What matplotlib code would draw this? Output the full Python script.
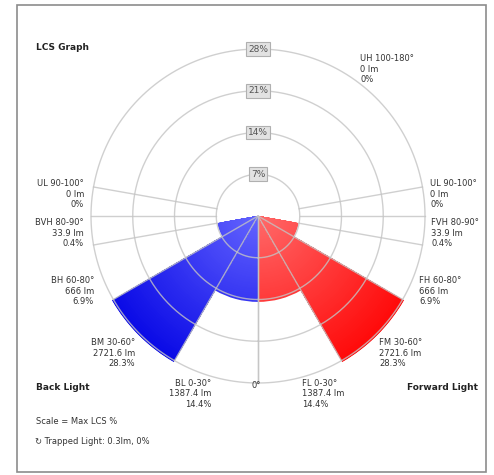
import numpy as np
import matplotlib.pyplot as plt
from matplotlib.colors import LinearSegmentedColormap
from matplotlib.patches import Rectangle

# LCS zones (angles from nadir), lumens and percentages
zone_start = [0, 30, 60, 80, 90, 100]
zone_end = [30, 60, 80, 90, 100, 180]
forward_pct = [14.4, 28.3, 6.9, 0.4, 0, 0]
back_pct = [14.4, 28.3, 6.9, 0.4, 0]
rings = [7, 14, 21, 28]
ring_labels = ['7%', '14%', '21%', '28%']
spokes = [0, 30, 60, 80, 90, 100]

W, H = 494, 475
fig = plt.figure(figsize=(W / 100, H / 100), dpi=100)
fig.patch.set_facecolor('white')

# outer gray frame
fig.add_artist(Rectangle((17 / W, 1 - 472 / H), 469 / W, 467 / H, transform=fig.transFigure,
                         fill=False, edgecolor='#8c8c8c', linewidth=1.2))

cx, cy, R28 = 258, 216, 167
rmax = 28.3
rpx = R28 * rmax / 28
ax = fig.add_axes([(cx - rpx) / W, (H - cy - rpx) / H, 2 * rpx / W, 2 * rpx / H], projection='polar')
ax.set_theta_zero_location('S')
ax.set_theta_direction(1)
ax.set_ylim(0, rmax)
ax.axis('off')

blue = LinearSegmentedColormap.from_list('b', ['#6464ff', '#0a0ae6'])
red = LinearSegmentedColormap.from_list('r', ['#ff6a6a', '#ff0a0a'])


def sector(a0, a1, val, cmap, sign):
    if val <= 0:
        return
    t0, t1 = np.radians(a0) * sign, np.radians(a1) * sign
    # overlapping wedges from outside in give a smooth radial gradient
    for r in np.linspace(val, 0, 80, endpoint=False):
        ax.bar((t0 + t1) / 2, r, width=abs(t1 - t0), bottom=0, color=cmap(r / rmax),
               linewidth=0, zorder=1)


for a0, a1, v in zip(zone_start, zone_end, forward_pct):
    sector(a0, a1, v, red, 1)
for a0, a1, v in zip(zone_start, zone_end, back_pct):
    sector(a0, a1, v, blue, -1)

# grid rings and spokes drawn over the sectors
th = np.linspace(0, 2 * np.pi, 400)
for r in rings:
    ax.plot(th, np.full_like(th, r), color='#c4c4c4', alpha=0.8, lw=1.0, zorder=3)
for s in spokes:
    r0 = 0 if s < 80 else 7
    for sign in (1, -1):
        ax.plot([np.radians(s) * sign] * 2, [r0, 28], color='#c4c4c4', alpha=0.8, lw=1.0, zorder=3)

# ring labels in boxes
for r, lab in zip(rings, ring_labels):
    ax.text(np.pi, r, lab, ha='center', va='center', fontsize=6.5, color='#555555', zorder=5,
            bbox=dict(boxstyle='square,pad=0.25', facecolor='#e2e2e2', edgecolor='#b0b0b0', lw=0.8))


def ft(x, y, s, **kw):
    kw.setdefault('fontsize', 6)
    kw.setdefault('color', '#333333')
    fig.text(x / W, 1 - y / H, s, va='center', linespacing=1.25, **kw)


ft(36, 48, 'LCS Graph', fontsize=6.5, fontweight='bold', color='#222222')
ft(360, 69, 'UH 100-180°\n0 lm\n0%', ha='left')
ft(84, 194, 'UL 90-100°\n0 lm\n0%', ha='right', multialignment='right')
ft(430, 194, 'UL 90-100°\n0 lm\n0%', ha='left')
ft(84, 233, 'BVH 80-90°\n33.9 lm\n0.4%', ha='right', multialignment='right')
ft(431, 233, 'FVH 80-90°\n33.9 lm\n0.4%', ha='left')
ft(94, 291, 'BH 60-80°\n666 lm\n6.9%', ha='right', multialignment='right')
ft(419, 291, 'FH 60-80°\n666 lm\n6.9%', ha='left')
ft(135, 353, 'BM 30-60°\n2721.6 lm\n28.3%', ha='right', multialignment='right')
ft(379, 353, 'FM 30-60°\n2721.6 lm\n28.3%', ha='left')
ft(211, 394, 'BL 0-30°\n1387.4 lm\n14.4%', ha='right', multialignment='right')
ft(302, 394, 'FL 0-30°\n1387.4 lm\n14.4%', ha='left')
ft(256, 386, '0°', ha='center')
ft(36, 388, 'Back Light', fontsize=6.5, fontweight='bold', color='#222222')
ft(478, 388, 'Forward Light', fontsize=6.5, fontweight='bold', color='#222222', ha='right')
ft(36, 421, 'Scale = Max LCS %')
ft(35, 442, '\u21bb Trapped Light: 0.3lm, 0%')

fig.savefig('out.png', dpi=100)
